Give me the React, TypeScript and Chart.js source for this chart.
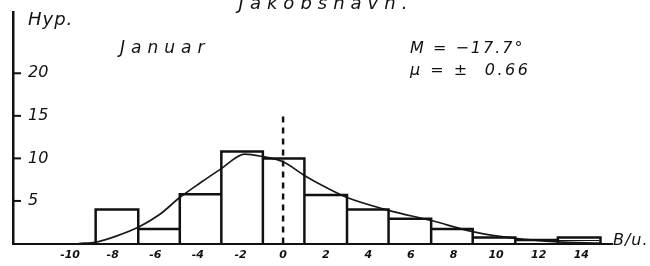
import { useEffect, useRef } from "react";
import { Chart, registerables } from "chart.js";

Chart.register(...registerables);

// Histogram: class edges (deviation from mean, °) and frequencies (Hyp.)
const binEdges = [-8.8, -6.8, -4.85, -2.9, -0.95, 1.0, 3.0, 4.95, 6.95, 8.9, 10.9, 12.9, 14.9];
const binHeights = [4.0, 1.7, 5.8, 10.8, 10.0, 5.7, 4.0, 2.9, 1.7, 0.7, 0.4, 0.7];

// Fitted frequency curve
const curveX = [-9.6, -8.8, -7.8, -6.8, -5.8, -4.85, -3.9, -2.9, -1.8, -0.95, 0, 1.0, 2.0, 3.0, 4.95, 6.95, 8.9, 10.9, 12.9, 14.9];
const curveY = [0, 0.15, 0.9, 1.9, 3.4, 5.4, 7.1, 8.8, 10.5, 10.2, 9.6, 8.0, 6.6, 5.4, 3.9, 2.7, 1.4, 0.6, 0.2, 0.05];

// Mean marker (dashed vertical at 0)
const meanX = [0, 0];
const meanY = [0, 15.1];

// Inner hatch line of the last class
const hatchX = [12.95, 14.85];
const hatchY = [0.35, 0.35];

const xTickValues = [-10, -8, -6, -4, -2, 0, 2, 4, 6, 8, 10, 12, 14];
const yTickValues = [5, 10, 15, 20];

const FONT = "'DejaVu Sans', sans-serif";
const INK = "#111";

const textPlugin = {
  id: "texts",
  afterDraw(chart: any) {
    const ctx = chart.ctx as CanvasRenderingContext2D;
    const area = chart.chartArea;
    const y = chart.scales.y;
    ctx.save();
    // y tick marks inside the axis
    ctx.strokeStyle = INK;
    ctx.lineWidth = 2;
    yTickValues.forEach((v) => {
      const py = y.getPixelForValue(v);
      ctx.beginPath();
      ctx.moveTo(area.left, py);
      ctx.lineTo(area.left + 8, py);
      ctx.stroke();
    });
    ctx.fillStyle = INK;
    ctx.textBaseline = "alphabetic";
    const put = (t: string, x: number, yy: number, size: number, spacing: number, align: CanvasTextAlign = "left") => {
      ctx.font = `italic ${size}px ${FONT}`;
      (ctx as any).letterSpacing = `${spacing}px`;
      ctx.textAlign = align;
      ctx.fillText(t, x, yy);
    };
    put("Jakobshavn.", 326, 9, 18, 6, "center");
    put("Hyp.", 28, 25, 18, 1);
    put("Januar", 120, 53, 17, 6);
    put("M = \u221217.7\u00b0", 410, 53, 16, 2);
    put("\u03bc = \u00b1  0.66", 410, 75, 16, 2.5);
    put("B/u.", 613, 245, 16, 1);
    ctx.restore();
  },
};

export default function App() {
  const ref = useRef<HTMLCanvasElement>(null);
  useEffect(() => {
    const canvas = ref.current!;
    const hist: { x: number; y: number }[] = [];
    for (let i = 0; i < binHeights.length; i++) {
      hist.push(
        { x: binEdges[i], y: 0 },
        { x: binEdges[i], y: binHeights[i] },
        { x: binEdges[i + 1], y: binHeights[i] },
        { x: binEdges[i + 1], y: 0 }
      );
    }
    const curve = curveX.map((x, i) => ({ x, y: curveY[i] }));
    const mean = meanX.map((x, i) => ({ x, y: meanY[i] }));
    const hatch = hatchX.map((x, i) => ({ x, y: hatchY[i] }));

    const chart = new Chart(canvas, {
      type: "scatter",
      data: {
        datasets: [
          {
            data: hist,
            showLine: true,
            borderColor: INK,
            borderWidth: 2.5,
            pointRadius: 0,
            tension: 0,
            borderJoinStyle: "miter",
            clip: false,
          } as any,
          {
            data: curve,
            showLine: true,
            borderColor: "#1a1a1a",
            borderWidth: 1.7,
            pointRadius: 0,
            cubicInterpolationMode: "monotone",
          } as any,
          {
            data: mean,
            showLine: true,
            borderColor: INK,
            borderWidth: 2.5,
            borderDash: [6, 5],
            pointRadius: 0,
            clip: false,
          } as any,
          {
            data: hatch,
            showLine: true,
            borderColor: INK,
            borderWidth: 1,
            pointRadius: 0,
          } as any,
        ],
      },
      options: {
        animation: false,
        responsive: false,
        devicePixelRatio: 1,
        events: [],
        layout: { padding: { left: 13, right: 38, top: 12, bottom: 4 } },
        plugins: { legend: { display: false }, tooltip: { enabled: false } },
        scales: {
          x: {
            type: "linear",
            min: -12.68,
            max: 15.44,
            grid: { display: false, drawTicks: false },
            border: { display: true, color: INK, width: 2 },
            afterBuildTicks: (s: any) => {
              s.ticks = xTickValues.map((v) => ({ value: v }));
            },
            afterFit: (s: any) => {
              s.height = 18.5;
              s.paddingLeft = 0;
              s.paddingRight = 0;
            },
            ticks: {
              color: INK,
              padding: 5,
              autoSkip: false,
              maxRotation: 0,
              font: { family: FONT, size: 11, style: "italic", weight: "bold" },
              callback: (v: any) => String(v),
            },
          },
          y: {
            type: "linear",
            min: 0,
            max: 27.2,
            grid: { display: false, drawTicks: false },
            border: { display: true, color: INK, width: 2.5 },
            afterBuildTicks: (s: any) => {
              s.ticks = yTickValues.map((v) => ({ value: v }));
            },
            afterFit: (s: any) => {
              s.width = 0;
              s.paddingTop = 0;
              s.paddingBottom = 0;
            },
            ticks: {
              mirror: true,
              padding: 15,
              color: INK,
              font: { family: FONT, size: 16, style: "italic" },
              callback: (v: any) => String(v),
            },
          },
        },
      },
      plugins: [textPlugin],
    });
    return () => chart.destroy();
  }, []);

  return (
    <div style={{ position: "fixed", left: 0, top: 0, width: 650, height: 266, background: "#fff" }}>
      <canvas ref={ref} width={650} height={266} style={{ display: "block" }} />
    </div>
  );
}
